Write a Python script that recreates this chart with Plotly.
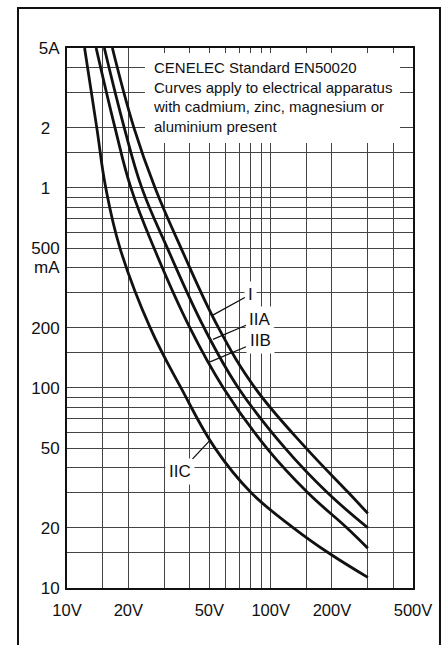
import math
import plotly.graph_objects as go

# ---- data (volts, milliamps) ----
curve_I_v = [16.7, 21.3, 27.05, 36.3, 55.4, 83.8, 149.3, 240.8, 300]
curve_I_ma = [5000, 2000, 1000, 500, 200, 100, 50, 30, 23.6]

curve_IIA_v = [15.25, 19.1, 23.3, 31.1, 47.1, 69.4, 117.7, 189.7, 300]
curve_IIA_ma = [5000, 2000, 1000, 500, 200, 100, 50, 30, 20]

curve_IIB_v = [13.9, 17.2, 20.6, 26.75, 40.1, 58.6, 95.7, 151.8, 236.5, 300]
curve_IIB_ma = [5000, 2000, 1000, 500, 200, 100, 50, 30, 20, 15.8]

curve_IIC_v = [12.2, 14.0, 15.5, 18.2, 25.6, 36.3, 53.3, 80.1, 129.3, 192, 300]
curve_IIC_ma = [5000, 2000, 1000, 500, 200, 100, 50, 30, 20, 15, 11.3]

x_tick_vals = [10, 20, 50, 100, 200, 500]
x_tick_text = ["10V", "20V", "50V", "100V", "200V", "500V"]
x_grid_vals = [15, 30, 40, 60, 70, 80, 90, 150, 300, 400]

y_tick_vals = [10, 20, 50, 100, 200, 500, 1000, 2000, 5000]
y_tick_text = ["10", "20", "50", "100", "200", "500", "1\u00a0\u00a0", "2\u00a0\u00a0", "5A"]
y_grid_vals = [15, 30, 40, 60, 70, 80, 90, 150, 300, 400, 600, 700, 800, 900, 1500, 3000, 4000]

# label name, point on curve (V, mA), text offset (px)
labels = [
    ("I", 52.0, 231, 38, -21),
    ("IIA", 52.1, 175, 47, -20),
    ("IIB", 50.4, 135, 50, -21),
    ("IIC", 50.6, 55, -30, 32),
]

FONT = "Liberation Sans, Arial, Helvetica, sans-serif"
INK = "#111111"
GRID = "#444444"

fig = go.Figure()
for v, ma in [(curve_I_v, curve_I_ma), (curve_IIA_v, curve_IIA_ma),
              (curve_IIB_v, curve_IIB_ma), (curve_IIC_v, curve_IIC_ma)]:
    fig.add_trace(go.Scatter(x=v, y=ma, mode="lines",
                             line=dict(color=INK, width=2.8, shape="spline", smoothing=1.15),
                             hoverinfo="skip", showlegend=False))

fig.update_xaxes(type="log", range=[1, 2.69897],
                 tickmode="array", tickvals=x_tick_vals, ticktext=x_tick_text,
                 showgrid=True, gridcolor=GRID, gridwidth=1,
                 minor=dict(tickvals=x_grid_vals, showgrid=True, gridcolor=GRID, gridwidth=1, ticks=""),
                 showline=True, linecolor=INK, linewidth=2, mirror=True,
                 ticks="", ticklabelstandoff=6,
                 tickfont=dict(family=FONT, size=16.5, color=INK), zeroline=False)
fig.update_yaxes(type="log", range=[1, 3.69897],
                 tickmode="array", tickvals=y_tick_vals, ticktext=y_tick_text,
                 showgrid=True, gridcolor=GRID, gridwidth=1,
                 minor=dict(tickvals=y_grid_vals, showgrid=True, gridcolor=GRID, gridwidth=1, ticks=""),
                 showline=True, linecolor=INK, linewidth=2, mirror=True,
                 ticks="", ticklabelstandoff=2,
                 tickfont=dict(family=FONT, size=17, color=INK), zeroline=False)

# "mA" unit under the 500 label
fig.add_annotation(xref="x domain", yref="y", x=0, y=math.log10(500),
                   xanchor="right", yanchor="middle", xshift=-5, yshift=-19,
                   showarrow=False, text="mA", font=dict(family=FONT, size=17, color=INK))

# white box behind the note (covers the grid)
fig.add_annotation(xref="x domain", yref="y domain", x=0.2254, y=0.9907,
                   xanchor="left", yanchor="top", showarrow=False, text=" ",
                   width=255, height=90, bgcolor="white", borderpad=0, borderwidth=0)

fig.add_annotation(xref="x domain", yref="y domain", x=0.243, y=0.984,
                   xanchor="left", yanchor="top", align="left", showarrow=False,
                   text="CENELEC Standard EN50020<br>Curves apply to electrical apparatus<br>"
                        "with cadmium, zinc, magnesium or<br>aluminium present",
                   font=dict(family=FONT, size=15, color=INK))

for name, xv, yv, ax, ay in labels:
    fig.add_annotation(x=math.log10(xv), y=math.log10(yv),
                       xref="x", yref="y", text=name, showarrow=True,
                       arrowhead=0, arrowwidth=1.3, arrowcolor=INK,
                       ax=ax, ay=ay, standoff=0,
                       bgcolor="white", borderpad=3,
                       font=dict(family=FONT, size=17, color=INK))

# outer frame of the figure
fig.add_shape(type="rect", xref="paper", yref="paper",
              x0=-0.1416, x1=1.078, y0=-0.25, y1=1.0741,
              line=dict(color=INK, width=2), fillcolor="rgba(0,0,0,0)")

fig.update_layout(width=445, height=645,
                  margin=dict(l=67, r=32, t=48, b=57),
                  paper_bgcolor="white", plot_bgcolor="white",
                  font=dict(family=FONT, color=INK))

fig.write_html("out.html")
